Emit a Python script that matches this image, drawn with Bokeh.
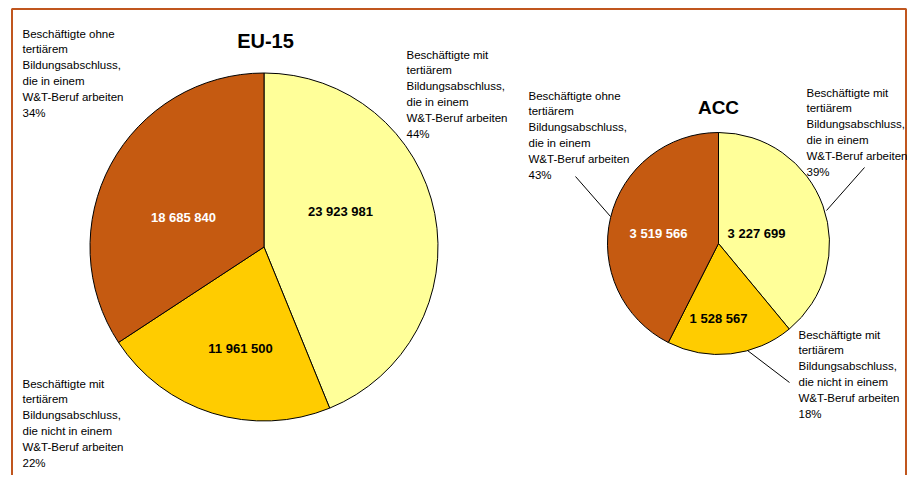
import math
from bokeh.plotting import figure
from bokeh.models import Range1d
from bokeh.core.properties import value
from bokeh.embed import file_html
from bokeh.resources import INLINE

# ---------------- data ----------------
categories = [
    "Beschäftigte mit\ntertiärem\nBildungsabschluss,\ndie in einem\nW&T-Beruf arbeiten",
    "Beschäftigte mit\ntertiärem\nBildungsabschluss,\ndie nicht in einem\nW&T-Beruf arbeiten",
    "Beschäftigte ohne\ntertiärem\nBildungsabschluss,\ndie in einem\nW&T-Beruf arbeiten",
]
eu15_values = [23923981, 11961500, 18685840]
acc_values = [3227699, 1528567, 3519566]
titles = ["EU-15", "ACC"]

# ---------------- style / layout ----------------
colors = ["#FFFF99", "#FFCC00", "#C55A11"]
value_colors = ["black", "black", "white"]
W, H = 907, 475
FONT = "Liberation Sans"


def X(xr):
    return xr


def Y(yr):
    return H - yr


p = figure(width=W, height=H, output_backend="svg", toolbar_location=None,
           x_range=Range1d(0, W), y_range=Range1d(0, H), min_border=0)
p.axis.visible = False
p.grid.visible = False
p.outline_line_color = None
p.background_fill_color = "white"

# frame
fc = "#C0561E"
p.line([X(11.5), X(11.5), X(905.5), X(905.5)], [Y(600), Y(8.5), Y(8.5), Y(600)],
       line_color=fc, line_width=2)

pies = [
    dict(vals=eu15_values, cx=263.5, cy=246.5, r=174,
         title_xy=(265, 29), title_size="20px",
         val_xy=[(340, 211), (240, 348), (183, 217)],
         cat_xy=[(406, 48), (22, 377), (22, 27)],
         leaders=None),
    dict(vals=acc_values, cx=718, cy=243, r=111,
         title_xy=(718, 96), title_size="19px",
         val_xy=[(756, 233), (718, 318), (658, 233)],
         cat_xy=[(806, 86), (798, 328), (528, 89)],
         leaders=[((864, 167), (826, 210)), ((789, 382), (747, 350)), ((575, 176), (610, 216))]),
]

for i, pie in enumerate(pies):
    vals = pie["vals"]
    total = sum(vals)
    start = math.pi / 2
    starts, ends = [], []
    for v in vals:
        a = 2 * math.pi * v / total
        starts.append(start)
        ends.append(start - a)
        start -= a
    cx, cy = X(pie["cx"]), Y(pie["cy"])
    p.wedge(x=[cx] * 3, y=[cy] * 3, radius=pie["r"], start_angle=starts, end_angle=ends,
            direction="clock", fill_color=colors, line_color="black", line_width=1)
    # values
    p.text(x=[X(a) for a, b in pie["val_xy"]], y=[Y(b) for a, b in pie["val_xy"]],
           text=[f"{v:,}".replace(",", " ") for v in vals],
           text_color=value_colors, text_font=value(FONT), text_font_size="13px",
           text_font_style="bold", text_align="center", text_baseline="middle")
    # categories
    labels = [f"{c}\n{round(100 * v / total)}%" for c, v in zip(categories, vals)]
    p.text(x=[X(a) for a, b in pie["cat_xy"]], y=[Y(b) for a, b in pie["cat_xy"]],
           text=labels, text_color="black", text_font=value(FONT),
           text_font_size="11.5px", text_align="left", text_baseline="top",
           text_line_height=1.33)
    # title
    tx, ty = pie["title_xy"]
    p.text(x=[X(tx)], y=[Y(ty)], text=[titles[i]], text_color="black",
           text_font=value(FONT), text_font_size=pie["title_size"], text_font_style="bold",
           text_align="center", text_baseline="top")
    if pie["leaders"]:
        for (a, b) in pie["leaders"]:
            p.line([X(a[0]), X(b[0])], [Y(a[1]), Y(b[1])], line_color="black", line_width=1)

open("out.html", "w").write(file_html(p, INLINE))
